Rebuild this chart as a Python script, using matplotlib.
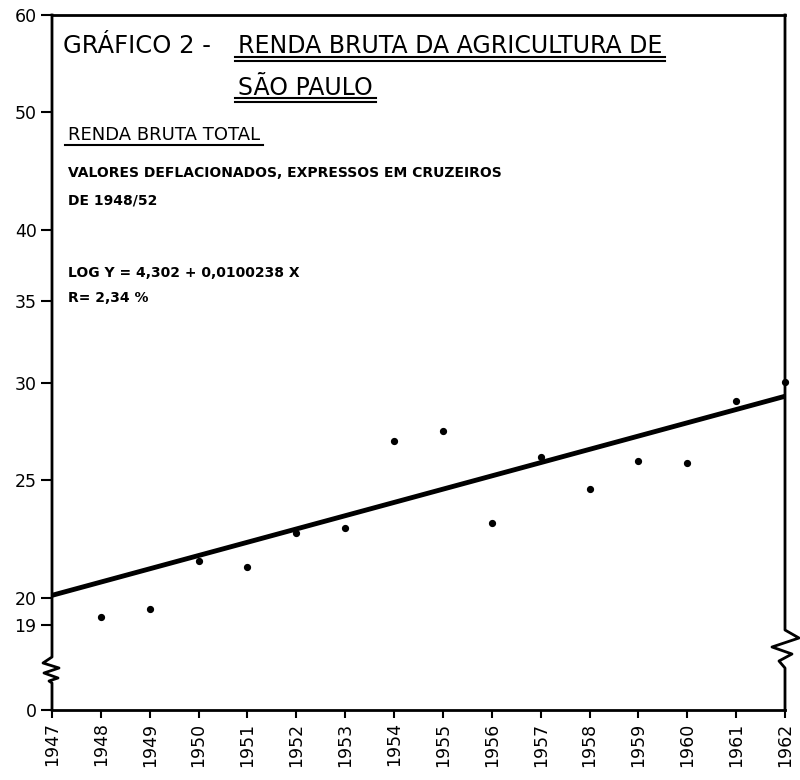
import numpy as np
import matplotlib.pyplot as plt
import matplotlib.transforms as mtransforms
from matplotlib.lines import Line2D

# renda bruta total (valores deflacionados, cruzeiros de 1948/52)
years = [1948, 1949, 1950, 1951, 1952, 1953, 1954, 1955, 1956, 1957, 1958, 1959, 1960, 1961, 1962]
renda = [19.3, 19.6, 21.45, 21.2, 22.6, 22.8, 26.9, 27.4, 23.05, 26.1, 24.55, 25.9, 25.8, 29.0, 30.05]

# reta de tendencia (extremos)
trend_years = [1947, 1962]
trend_values = [20.1, 29.25]

x_ticks = list(range(1947, 1963))
y_ticks = [0, 19, 20, 25, 30, 35, 40, 50, 60]
y_labels = ['0', '19', '20', '25', '30', '35', '40', '50', '60']

# escala log com quebra abaixo de 19
S = 0.00841
LOG19 = np.log(19)


def fwd(v):
    v = np.asarray(v, dtype=float)
    return np.where(v >= 19, np.log(np.maximum(v, 19)), LOG19 - (19 - v) * S)


def inv(u):
    u = np.asarray(u, dtype=float)
    return np.where(u >= LOG19, np.exp(np.minimum(u, 50)), 19 - (LOG19 - u) / S)


plt.rcParams['font.family'] = ['DejaVu Sans']

fig = plt.figure(figsize=(8, 7.8), dpi=100)
ax = fig.add_axes([52 / 800, 70 / 780, 733 / 800, 695 / 780])

ax.set_yscale('function', functions=(fwd, inv))
ax.set_ylim(0, 60)
ax.set_xlim(1947, 1962)

ax.plot(trend_years, trend_values, color='black', lw=3.5, solid_capstyle='butt')
ax.plot(years, renda, 'o', color='black', ms=4.2, clip_on=False)

ax.set_yticks(y_ticks)
ax.set_yticklabels(y_labels)
ax.yaxis.set_minor_locator(plt.NullLocator())
ax.set_xticks(x_ticks)
ax.set_xticklabels([str(y) for y in x_ticks], rotation=90)
ax.tick_params(axis='y', direction='out', length=8, width=1.5, pad=3, labelsize=12.5)
ax.tick_params(axis='x', direction='out', length=6, width=1.5, pad=3, labelsize=12.5)

for s in ['left', 'right']:
    ax.spines[s].set_visible(False)
for s in ['top', 'bottom']:
    ax.spines[s].set_linewidth(2)

# eixos verticais com quebra (coordenadas em pixels a partir da origem do eixo)
trans = fig.dpi_scale_trans + mtransforms.ScaledTranslation(0, 0, ax.transAxes)
left_px = [(0, 695), (0, 53), (-9, 47), (7, 42), (-8, 37), (6, 32), (-3, 29), (0, 27), (0, 0)]
right_px = [(733, 695), (733, 80), (747, 72), (720, 63), (740, 56), (727, 49), (733, 42), (733, 0)]
for pts in [left_px, right_px]:
    xs = [p[0] / 100 for p in pts]
    ys = [p[1] / 100 for p in pts]
    ax.plot(xs, ys, color='black', lw=2, transform=trans, clip_on=False)


def ftext(x, y, s, **kw):
    return fig.text(x / 800, 1 - y / 780, s, va='baseline', ha='left', color='black', **kw)


ftext(63, 53, 'GRÁFICO 2 -', fontsize=17.5)
t1 = ftext(238, 53, 'RENDA BRUTA DA AGRICULTURA DE', fontsize=17)
t2 = ftext(238, 95, 'SÃO PAULO', fontsize=17)
t3 = ftext(68, 140, 'RENDA BRUTA TOTAL', fontsize=13)
ftext(68, 177, 'VALORES DEFLACIONADOS, EXPRESSOS EM CRUZEIROS', fontsize=10, fontweight='bold')
ftext(68, 205, 'DE 1948/52', fontsize=10, fontweight='bold')
ftext(68, 277, 'LOG Y = 4,302 + 0,0100238 X', fontsize=10, fontweight='bold')
ftext(68, 302, 'R= 2,34 %', fontsize=10, fontweight='bold')

fig.canvas.draw()
inv_fig = fig.transFigure.inverted()


def underline(t, offsets):
    bb = t.get_window_extent()
    x0, _ = inv_fig.transform((bb.x0 - 3, 0))
    x1, _ = inv_fig.transform((bb.x1 + 3, 0))
    for off in offsets:
        y = 1 - off / 780
        fig.add_artist(Line2D([x0, x1], [y, y], color='black', lw=1.5, transform=fig.transFigure))


underline(t1, [57, 61])
underline(t2, [98, 102])
underline(t3, [145])

fig.savefig('out.png', dpi=100, facecolor='white')
